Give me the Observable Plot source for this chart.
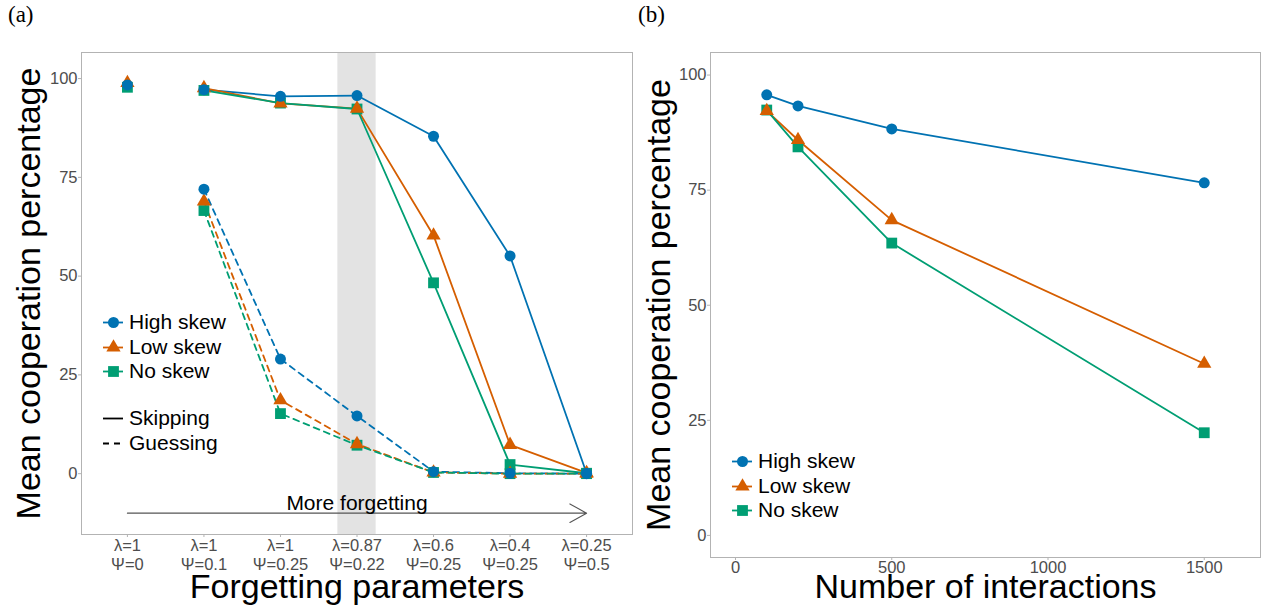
<!DOCTYPE html>
<html><head><meta charset="utf-8">
<script src="https://cdn.jsdelivr.net/npm/d3@7"></script>
<script src="https://cdn.jsdelivr.net/npm/@observablehq/plot@0.6"></script>
<style>
body{margin:0;background:#fff;font-family:"Liberation Sans",Arial,sans-serif;}
#wrap{position:relative;width:1262px;height:608px;overflow:hidden;background:#fff}
.panel{position:absolute;top:0}
.tag{position:absolute;font-family:"Liberation Serif",serif;font-size:23px;line-height:1;top:3px}
.item{position:absolute;display:flex;align-items:center;height:24px;font-size:21px;line-height:24px;color:#000;white-space:nowrap}
.item svg{display:block;margin-right:6px}
</style></head><body><div id="wrap"></div>
<script>
// ---------- data ----------
const series = ["High skew", "Low skew", "No skew"];
const colors = ["#0072B2", "#D55E00", "#009E73"];
const shapes = ["circle", "triangle", "square"];
const dotR = [5.5, 5.3, 6.1];

// Panel (a): forgetting parameter settings (categories 1..7)
const lambdas = ["1", "1", "1", "0.87", "0.6", "0.4", "0.25"];
const psis = ["0", "0.1", "0.25", "0.22", "0.25", "0.25", "0.5"];
const highlighted = 4; // λ=0.87, Ψ=0.22
// No forgetting (category 1), one value per series
const noForgetting = [98.4, 98.9, 97.8];
// Categories 2..7
const skipHigh = [97.2, 95.5, 95.7, 85.4, 55.1, 0.1];
const skipLow  = [97.6, 93.7, 92.4, 60.3, 7.3, 0.2];
const skipNo   = [97.0, 93.8, 92.3, 48.3, 2.3, 0.1];
const guessHigh = [72.0, 29.0, 14.6, 0.5, 0.1, 0.0];
const guessLow  = [68.9, 18.6, 7.5, 0.3, 0.0, 0.0];
const guessNo   = [66.6, 15.2, 7.2, 0.3, 0.0, 0.0];
const arrowNote = {label: "More forgetting", from: 1, to: 7, at: -10};

// Panel (b): number of interactions
const interactions = [100, 200, 500, 1500];
const interHigh = [95.7, 93.3, 88.3, 76.6];
const interLow  = [92.2, 85.9, 68.5, 37.3];
const interNo   = [92.4, 84.4, 63.5, 22.3];

const yTicks = [0, 25, 50, 75, 100];
const xTicksB = [0, 500, 1000, 1500];

// ---------- tidy tables ----------
const cats = [2, 3, 4, 5, 6, 7];
const skipSets = [skipHigh, skipLow, skipNo];
const guessSets = [guessHigh, guessLow, guessNo];
const skipData = series.flatMap((s, k) => cats.map((c, j) => ({s, i: c, v: skipSets[k][j]})));
const guessData = series.flatMap((s, k) => cats.map((c, j) => ({s, i: c, v: guessSets[k][j]})));
const startData = series.map((s, k) => ({s, i: 1, v: noForgetting[k]}));
const ptsA = [...startData, ...skipData, ...guessData];
const interSets = [interHigh, interLow, interNo];
const dataB = series.flatMap((s, k) => interactions.map((n, j) => ({s, n, v: interSets[k][j]})));

const FONT = "Liberation Sans, Arial, sans-serif";
const frameCol = "#b3b3b3", tickText = "#4d4d4d";
const drawOrder = [2, 1, 0];

function dotsFor(data, xKey) {
  return drawOrder.map(k => Plot.dot(data.filter(d => d.s === series[k]), {
    x: xKey, y: "v", symbol: "s", fill: "s", r: dotR[k]
  }));
}

const common = {
  style: {fontFamily: FONT, background: "transparent", overflow: "visible"},
  color: {domain: series, range: colors},
  symbol: {domain: series, range: shapes}
};

// ---------- panel (a) ----------
const plotA = Plot.plot({
  ...common,
  width: 640, height: 608,
  marginLeft: 81, marginRight: 8, marginTop: 52, marginBottom: 74,
  x: {domain: [0.4, 7.6]},
  y: {domain: [-15.4, 106.6]},
  marks: [
    Plot.rect([highlighted], {x1: d => d - 0.25, x2: d => d + 0.25, fill: "#e3e3e3"}),
    Plot.frame({stroke: frameCol}),
    Plot.axisY({ticks: yTicks, tickSize: 3, tickPadding: 1, fontSize: 16.5, fill: tickText, stroke: frameCol, label: null}),
    Plot.axisX({ticks: [1, 2, 3, 4, 5, 6, 7], tickSize: 3, tickPadding: 0, fontSize: 16.5, lineHeight: 1.15,
      tickFormat: i => `λ=${lambdas[i - 1]}\nΨ=${psis[i - 1]}`, fill: tickText, stroke: frameCol, label: null}),
    Plot.arrow([arrowNote], {x1: "from", x2: "to", y1: "at", y2: "at", stroke: "#555", strokeWidth: 1.1, headLength: 26, headAngle: 58}),
    Plot.text([arrowNote], {x: d => (d.from + d.to) / 2, y: "at", text: "label", dy: -3, lineAnchor: "bottom", fontSize: 21, fill: "#000"}),
    Plot.line(skipData, {x: "i", y: "v", z: "s", stroke: "s", strokeWidth: 1.8}),
    Plot.line(guessData, {x: "i", y: "v", z: "s", stroke: "s", strokeWidth: 1.8, strokeDasharray: "6,5"}),
    ...dotsFor(ptsA, "i"),
    Plot.text(["Mean cooperation percentage"], {frameAnchor: "left", textAnchor: "middle", rotate: -90, dx: -52, fontSize: 34, lineAnchor: "middle", fill: "#000"}),
    Plot.text(["Forgetting parameters"], {frameAnchor: "bottom", textAnchor: "middle", dy: 53, fontSize: 34, lineAnchor: "middle", fill: "#000"})
  ]
});

// ---------- panel (b) ----------
const plotB = Plot.plot({
  ...common,
  width: 632, height: 608,
  marginLeft: 80, marginRight: 2, marginTop: 52, marginBottom: 51,
  x: {domain: [-80, 1680]},
  y: {domain: [-4.8, 104.9]},
  marks: [
    Plot.frame({stroke: frameCol}),
    Plot.axisY({ticks: yTicks, tickSize: 3, tickPadding: 1, fontSize: 16.5, fill: tickText, stroke: frameCol, label: null}),
    Plot.axisX({ticks: xTicksB, tickSize: 3, tickPadding: 1, fontSize: 16.5, tickFormat: d3.format("d"), fill: tickText, stroke: frameCol, label: null}),
    Plot.line(dataB, {x: "n", y: "v", z: "s", stroke: "s", strokeWidth: 1.8}),
    ...dotsFor(dataB, "n"),
    Plot.text(["Mean cooperation percentage"], {frameAnchor: "left", textAnchor: "middle", rotate: -90, dx: -51, fontSize: 34, lineAnchor: "middle", fill: "#000"}),
    Plot.text(["Number of interactions"], {frameAnchor: "bottom", textAnchor: "middle", dy: 30, fontSize: 34, lineAnchor: "middle", fill: "#000"})
  ]
});

const wrap = document.getElementById("wrap");
function place(node, left) { node.classList.add("panel"); node.style.left = left + "px"; wrap.appendChild(node); }
place(plotA, 0);
place(plotB, 630);

function tag(text, left) {
  const d = document.createElement("div"); d.className = "tag"; d.textContent = text; d.style.left = left + "px"; wrap.appendChild(d);
}
tag("(a)", 8); tag("(b)", 638);

// ---------- legends ----------
function swatch({color = "#000", symbol = null, r = 5, dash = null}) {
  const key = "k";
  const marks = [Plot.ruleY([key], {y: d => d, stroke: color, strokeWidth: 1.8, strokeDasharray: dash})];
  if (symbol) marks.push(Plot.dot([key], {x: d => d, y: d => d, symbol, fill: color, r}));
  return Plot.plot({width: 20, height: 20, margin: 0, axis: null,
    x: {type: "point", domain: [key]}, y: {type: "point", domain: [key]}, marks});
}
function legendItem(left, centerY, sw, text) {
  const d = document.createElement("div"); d.className = "item";
  d.style.left = left + "px"; d.style.top = (centerY - 12) + "px";
  d.appendChild(sw);
  const t = document.createElement("span"); t.textContent = text; d.appendChild(t);
  wrap.appendChild(d);
}
const rowsA = [322, 347, 371];
series.forEach((s, k) => legendItem(103, rowsA[k], swatch({color: colors[k], symbol: shapes[k], r: dotR[k]}), s));
legendItem(103, 418, swatch({}), "Skipping");
legendItem(103, 443, swatch({dash: "6,5"}), "Guessing");
const rowsB = [461, 486, 510];
series.forEach((s, k) => legendItem(732, rowsB[k], swatch({color: colors[k], symbol: shapes[k], r: dotR[k]}), s));
</script></body></html>
